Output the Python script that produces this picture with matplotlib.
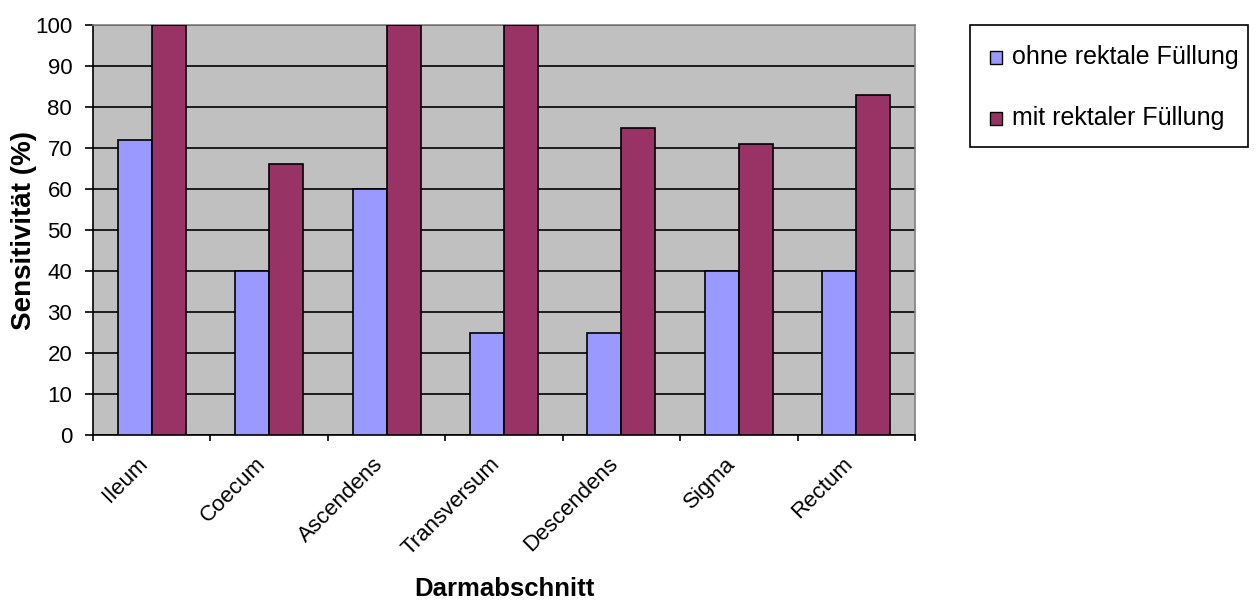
import matplotlib
matplotlib.use("Agg")
import matplotlib.pyplot as plt
from matplotlib.patches import Rectangle
from matplotlib.transforms import ScaledTranslation
import numpy as np

plt.rcParams['font.family'] = ['Liberation Sans', 'DejaVu Sans']

categories = ["Ileum", "Coecum", "Ascendens", "Transversum", "Descendens", "Sigma", "Rectum"]
ohne = [72, 40, 60, 25, 25, 40, 40]
mit = [100, 66, 100, 100, 75, 71, 83]
series_names = ["ohne rektale Füllung", "mit rektaler Füllung"]
series_colors = ["#9999FF", "#993366"]
yticks = list(range(0, 101, 10))

W, H = 1260, 603
fig = plt.figure(figsize=(W / 100, H / 100), dpi=100)


def fx(px):
    return px / W


def fy(py):
    return 1 - py / H


ax = fig.add_axes([fx(93), fy(435), (915 - 93) / W, (435 - 25) / H])
ax.set_facecolor("#C0C0C0")

x = np.arange(len(categories))
w = 0.29
ax.bar(x - w / 2, ohne, w, color=series_colors[0], edgecolor="black", linewidth=1.2, zorder=3)
ax.bar(x + w / 2, mit, w, color=series_colors[1], edgecolor="black", linewidth=1.2, zorder=3)

ax.set_xlim(-0.5, len(categories) - 0.5)
ax.set_ylim(0, 100)
ax.set_yticks(yticks)
ax.yaxis.grid(True, color="black", linewidth=1.2, zorder=1)
ax.set_axisbelow(True)

# category boundaries carry the tick marks, names sit below the centres
ax.set_xticks(np.arange(len(categories) + 1) - 0.5)
ax.set_xticklabels([])
ax.tick_params(axis="x", length=4.5, width=1.2, direction="out")
ax.tick_params(axis="y", length=6, width=1.2, direction="out", labelsize=16, pad=9)

label_tr = ax.get_xaxis_transform() + ScaledTranslation(-0.07, -0.26, fig.dpi_scale_trans)
for xi, name in zip(x, categories):
    ax.text(xi, 0, name, transform=label_tr, rotation=45, ha="right", va="center",
            rotation_mode="anchor", fontsize=16, clip_on=False)

for s in ["left", "bottom"]:
    ax.spines[s].set_color("black")
    ax.spines[s].set_linewidth(1.2)
for s in ["top", "right"]:
    ax.spines[s].set_color("#808080")
    ax.spines[s].set_linewidth(1.2)

fig.text(fx(24), fy(230), "Sensitivität (%)", rotation=90, ha="center", va="center",
         fontsize=20, fontweight="bold")
fig.text(fx(504), fy(589), "Darmabschnitt", ha="center", va="center",
         fontsize=18.5, fontweight="bold")

# legend box
fig.add_artist(Rectangle((fx(970), fy(147)), (1248 - 970) / W, (147 - 25) / H,
                         transform=fig.transFigure, facecolor="white",
                         edgecolor="black", linewidth=1.2))
for name, color, yc in zip(series_names, series_colors, [57, 118]):
    fig.add_artist(Rectangle((fx(990), fy(yc + 7)), 12 / W, 13 / H,
                             transform=fig.transFigure, facecolor=color,
                             edgecolor="black", linewidth=1.0))
    fig.text(fx(1012), fy(yc), name, ha="left", va="center", fontsize=18)

fig.savefig("out.png", dpi=100)
